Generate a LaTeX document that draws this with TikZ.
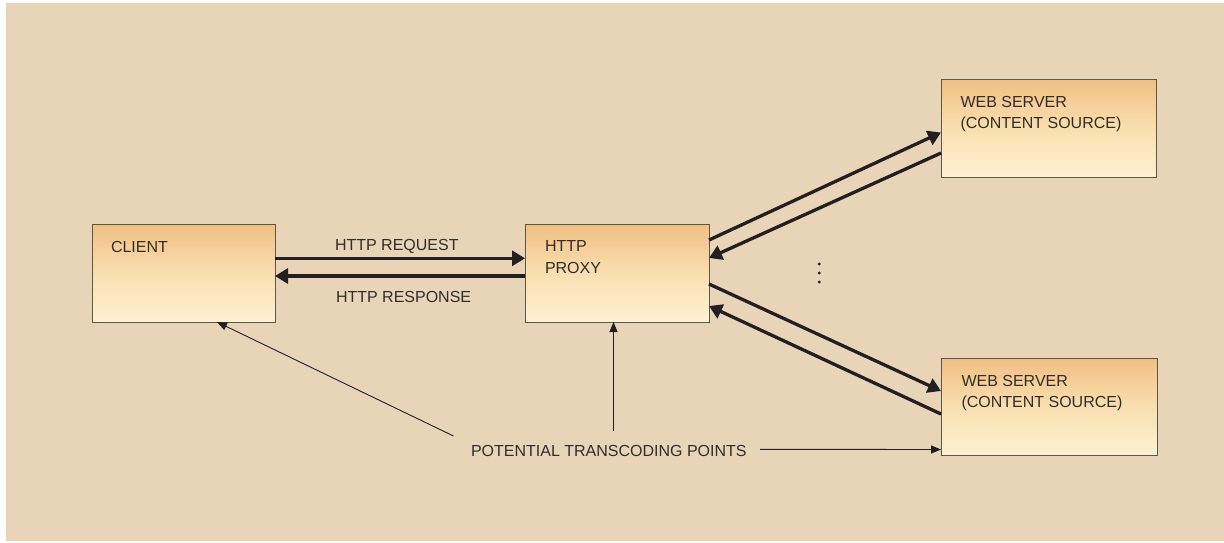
\documentclass[tikz,border=0pt]{standalone}
\usepackage{fontspec}
\setmainfont{Liberation Sans}
\usetikzlibrary{arrows.meta,calc}

\definecolor{pagebg}{HTML}{E8D5B7}
\definecolor{boxtop}{HTML}{F1BF83}
\definecolor{boxmid}{HTML}{F9DFAF}
\definecolor{boxbot}{HTML}{FDF2D3}
\definecolor{boxedge}{HTML}{5E554C}
\definecolor{ink}{HTML}{231F20}
\definecolor{txt}{HTML}{332D2A}

\tikzset{
  box/.style={rectangle, draw=boxedge, line width=1pt, inner sep=0pt, outer sep=0pt,
    anchor=north west, minimum height=98pt,
    top color=boxtop, bottom color=boxbot, middle color=boxmid},
  lbl/.style={anchor=base west, inner sep=0pt, outer sep=0pt, text=txt,
    font=\fontsize{16}{19}\selectfont},
  flow/.style={draw=ink, line width=3.3pt, -{Triangle[length=13pt,width=15pt]}},
  pointer/.style={draw=ink, line width=0.9pt, -{Triangle[length=10pt,width=8pt]}}
}

\begin{document}
\begin{tikzpicture}[x=1pt,y=-1pt]
  \useasboundingbox (0,0) rectangle (1224,542);
  \fill[white] (0,0) rectangle (1224,542);
  \fill[pagebg] (6,3) rectangle (1224,541);

  % boxes
  \node[box, minimum width=183pt] (client) at (92,224) {};
  \node[box, minimum width=184pt] (proxy)  at (525,224) {};
  \node[box, minimum width=215pt] (ws1)    at (941,79) {};
  \node[box, minimum width=216pt, minimum height=97pt] (ws2) at (941,358) {};

  % box captions
  \node[lbl] (clientT) at ($(client.north west)+(19,28)$) {CLIENT};
  \node[lbl] (proxyA)  at ($(proxy.north west)+(20,27.5)$) {HTTP};
  \node[lbl] (proxyB)  at ($(proxy.north west)+(20,49)$) {PROXY};
  \node[lbl] (ws1A)    at ($(ws1.north west)+(19.5,28)$) {WEB SERVER};
  \node[lbl] (ws1B)    at ($(ws1.north west)+(19.5,49)$) {(CONTENT SOURCE)};
  \node[lbl] (ws2A)    at ($(ws2.north west)+(20.5,28)$) {WEB SERVER};
  \node[lbl] (ws2B)    at ($(ws2.north west)+(20.5,49)$) {(CONTENT SOURCE)};

  % client <-> proxy
  \draw[flow] ([yshift=-34.3pt]client.north east) -- ([yshift=-34.3pt]proxy.north west);
  \draw[flow] ([yshift=-52pt]proxy.north west) -- ([yshift=-52pt]client.north east);
  \node[lbl] (req) at (335,250) {HTTP REQUEST};
  \node[lbl] (res) at (336,302) {HTTP RESPONSE};

  % proxy <-> web servers
  \draw[flow] ([yshift=-16pt]proxy.north east) -- ([yshift=-53.5pt]ws1.north west);
  \draw[flow] ([yshift=-74pt]ws1.north west) -- ([yshift=-34pt]proxy.north east);
  \draw[flow] ([yshift=-60pt]proxy.north east) -- ([yshift=-33pt]ws2.north west);
  \draw[flow] ([yshift=-56pt]ws2.north west) -- ([yshift=-82pt]proxy.north east);

  % vertical ellipsis between the servers
  \foreach \yy in {264,273,282} \fill[ink] (819.3,\yy) circle (1.6pt);

  % transcoding points
  \node[lbl] (tcp) at (471,456) {POTENTIAL TRANSCODING POINTS};
  \coordinate (p1) at (453.5,436);
  \coordinate (p2) at (613.5,431);
  \coordinate (p3) at (760,449.3);
  \draw[pointer] (p1) -- ([xshift=125pt]client.south west);
  \draw[pointer] (p2) -- ([xshift=88.5pt]proxy.south west);
  \draw[pointer] (p3) -- ([yshift=-91.5pt]ws2.north west);
\end{tikzpicture}
\end{document}
